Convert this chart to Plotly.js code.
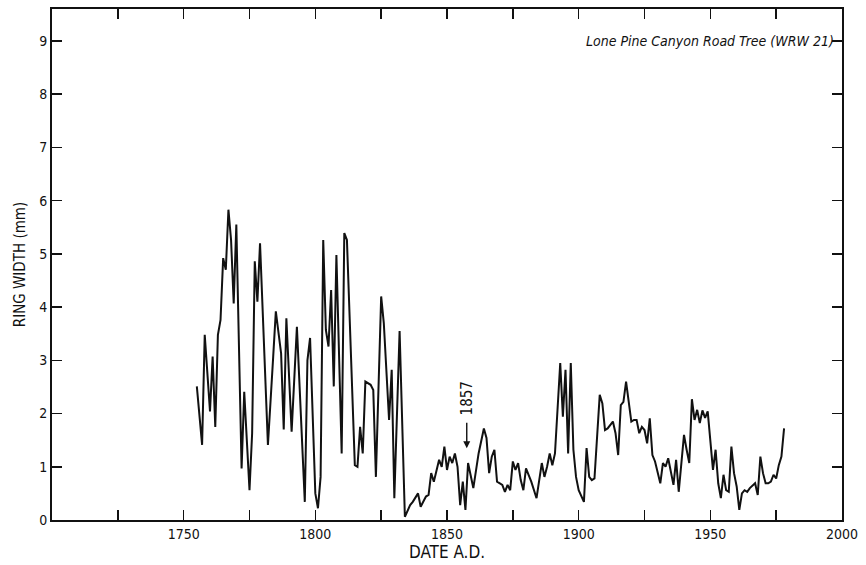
<!DOCTYPE html>
<html>
<head>
<meta charset="utf-8">
<script src="https://cdn.plot.ly/plotly-3.0.1.min.js"></script>
<style>html,body{margin:0;padding:0;background:#fff;}#chart{width:866px;height:565px;}</style>
</head>
<body>
<div id="chart"></div>
<script>
const years = [1755,1757,1758,1760,1761,1762,1763,1764,1765,1766,1767,1768,1769,1770,1772,1773,1775,1776,1777,1778,1779,
  1782,1784,1785,1787,1788,1789,1791,1793,1796,1797,1798,1800,1801,1802,1803,1804,1805,1806,1807,1808,1810,1811,1812,
  1815,1816,1817,1818,1819,1821,1822,1823,1825,1826,1828,1829,1830,1832,1834,1836,1837,1839,1840,1842,1843,1844,1845,
  1847,1848,1849,1850,1851,1852,1853,1854,1855,1856,1857,1858,1859,1860,1862,1864,1865,1866,1867,1868,1869,1871,1872,
  1873,1874,1875,1876,1877,1878,1879,1880,1881,1882,1884,1886,1887,1888,1889,1890,1891,1893,1894,1895,1896,1897,1898,
  1899,1900,1902,1903,1904,1905,1906,1908,1909,1910,1911,1913,1914,1915,1916,1917,1918,1920,1921,1922,1923,1924,1925,
  1926,1927,1928,1929,1931,1932,1933,1934,1936,1937,1938,1940,1941,1942,1943,1944,1945,1946,1947,1948,1949,1951,1952,
  1953,1954,1955,1956,1957,1958,1959,1960,1961,1962,1963,1964,1965,1967,1968,1969,1970,1971,1972,1973,1974,1975,1976,
  1977,1978];
const ringWidth = [2.51,1.41,3.48,2.04,3.07,1.75,3.48,3.76,4.92,4.70,5.83,5.26,4.07,5.55,0.97,2.41,0.56,1.63,4.86,4.10,5.20,
  1.41,3.07,3.92,3.13,1.70,3.79,1.66,3.63,0.34,3.00,3.42,0.50,0.22,0.81,5.26,3.57,3.26,4.32,2.51,4.98,1.25,5.39,5.26,
  1.03,1.00,1.75,1.25,2.60,2.54,2.44,0.81,4.20,3.70,1.88,2.82,0.41,3.55,0.06,0.28,0.34,0.50,0.25,0.44,0.47,0.88,0.72,
  1.13,1.00,1.38,0.94,1.19,1.07,1.25,1.00,0.28,0.72,0.19,1.07,0.81,0.60,1.25,1.72,1.54,0.88,1.19,1.32,0.72,0.66,0.53,
  0.66,0.56,1.10,0.94,1.07,0.75,0.56,0.97,0.85,0.72,0.41,1.07,0.81,1.00,1.25,1.03,1.25,2.95,1.94,2.82,1.25,2.95,1.32,
  0.81,0.56,0.34,1.35,0.81,0.75,0.78,2.35,2.19,1.69,1.72,1.85,1.63,1.22,2.16,2.22,2.60,1.85,1.88,1.88,1.63,1.75,1.69,
  1.44,1.91,1.22,1.10,0.69,1.07,1.00,1.16,0.66,1.13,0.53,1.60,1.32,1.07,2.27,1.88,2.07,1.82,2.06,1.92,2.04,0.94,1.32,
  0.69,0.41,0.85,0.56,0.53,1.38,0.88,0.63,0.19,0.50,0.56,0.53,0.60,0.69,0.47,1.19,0.88,0.69,0.69,0.72,0.85,0.78,1.03,
  1.19,1.72];
const xTickVals = [1725,1750,1775,1800,1825,1850,1875,1900,1925,1950,1975,2000];
const xTickText = ['','1750','','1800','','1850','','1900','','1950','','2000'];
const yTickVals = [0,1,2,3,4,5,6,7,8,9];
const chartLabel = 'Lone Pine Canyon Road Tree (WRW 21)';
const markYear = 1857;

const font = 'Liberation Sans Narrow, DejaVu Sans Condensed, Arial Narrow, sans-serif';

Plotly.newPlot('chart', [{
  x: years, y: ringWidth, type: 'scatter', mode: 'lines',
  line: {color: '#111', width: 2}, hoverinfo: 'skip'
}], {
  width: 866, height: 565,
  margin: {l: 52, r: 24, t: 9, b: 45},
  paper_bgcolor: '#fff', plot_bgcolor: '#fff',
  showlegend: false,
  font: {family: font, color: '#111', size: 13},
  xaxis: {
    range: [1700, 2000], tickmode: 'array', tickvals: xTickVals, ticktext: xTickText,
    ticks: 'inside', ticklen: 10, tickwidth: 1.6, tickcolor: '#111',
    showline: true, linecolor: '#111', linewidth: 2, mirror: 'allticks',
    showgrid: false, zeroline: false,
    tickfont: {family: font, size: 14},
    title: {text: 'DATE A.D.', font: {family: font, size: 17}, standoff: 5}
  },
  yaxis: {
    range: [0, 9.6], tickmode: 'array', tickvals: yTickVals,
    ticks: 'inside', ticklen: 10, tickwidth: 1.6, tickcolor: '#111',
    showline: true, linecolor: '#111', linewidth: 2, mirror: 'allticks',
    showgrid: false, zeroline: false,
    tickfont: {family: font, size: 14},
    title: {text: 'RING WIDTH (mm)', font: {family: font, size: 15}, standoff: 10}
  },
  annotations: [
    {xref: 'paper', yref: 'y', x: 0.992, y: 9.0, xanchor: 'right', yanchor: 'middle',
     text: '<i>' + chartLabel + '</i>', showarrow: false, font: {family: font, size: 14, color: '#111'}},
    {xref: 'x', yref: 'y', x: markYear + 0.5, y: 2.28, text: String(markYear), textangle: -90,
     showarrow: false, font: {family: font, size: 15, color: '#111'}},
    {xref: 'x', yref: 'y', x: markYear + 0.5, y: 1.35, text: '', showarrow: true,
     ax: 0, ay: -27, arrowhead: 2, arrowsize: 1, arrowwidth: 1.4, arrowcolor: '#111', standoff: 0}
  ]
}, {staticPlot: true});
</script>
</body>
</html>
